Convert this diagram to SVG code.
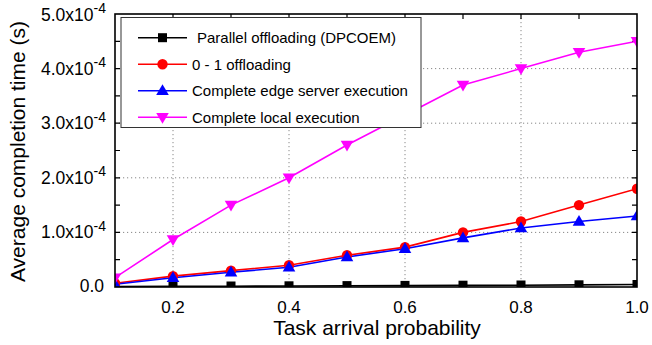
<svg xmlns="http://www.w3.org/2000/svg" width="652" height="345" viewBox="0 0 652 345">
<defs>
<style>
text{font-family:"Liberation Sans",Arial,sans-serif;fill:#000}
.tick{font-size:17px}
.ytick{font-size:17.5px}
.sup{font-size:14px}
.title{font-size:21px}
.leg{font-size:15px}
.grid{stroke:#888;stroke-width:1;stroke-dasharray:1.2 2.8;fill:none}
.tk{stroke:#000;stroke-width:1.2;fill:none}
.lk{fill:none;stroke:#000;stroke-width:1.6}
.lr{fill:none;stroke:#f00;stroke-width:1.6}
.lb{fill:none;stroke:#00f;stroke-width:1.6}
.lm{fill:none;stroke:#f0f;stroke-width:1.6}
</style>
<clipPath id="plot"><rect x="115" y="14" width="522" height="273"/></clipPath>
<rect id="sq" x="-4.5" y="-4.5" width="9" height="9" fill="#000"/>
<circle id="ci" r="5.2" fill="#f00"/>
<path id="tu" d="M0,-6.5 L6.3,4.3 L-6.3,4.3 Z" fill="#00f"/>
<path id="td" d="M0,6.5 L6.3,-4.3 L-6.3,-4.3 Z" fill="#f0f"/>
</defs>
<rect width="652" height="345" fill="#fff"/>
<g id="grid">
<path class="grid" d="M173,14V287M289,14V287M405,14V287M521,14V287M115,232.4H637M115,177.8H637M115,123.2H637M115,68.6H637"/>
</g>
<g id="ticks">
<path class="tk" d="M115,259.7h5M115,232.4h5M115,205.1h5M115,177.8h5M115,150.5h5M115,123.2h5M115,95.9h5M115,68.6h5M115,41.3h5M637,259.7h-5M637,232.4h-5M637,205.1h-5M637,177.8h-5M637,150.5h-5M637,123.2h-5M637,95.9h-5M637,68.6h-5M637,41.3h-5M173,287v-5M231,287v-5M289,287v-5M347,287v-5M405,287v-5M463,287v-5M521,287v-5M579,287v-5M173,14v5M231,14v5M289,14v5M347,14v5M405,14v5M463,14v5M521,14v5M579,14v5"/>
</g>
<g id="connectors" clip-path="url(#plot)">
<polyline class="lk" points="115,286.6 173,286.4 231,286.2 289,286 347,285.8 405,285.6 463,285.4 521,285.2 579,284.9 637,284.5"/>
<polyline class="lr" points="115,283.2 173,276.1 231,270.6 289,265.2 347,255.3 405,247.1 463,232.4 521,221.5 579,205.1 637,188.7"/>
<polyline class="lb" points="115,284.3 173,277.7 231,272.3 289,267.3 347,257 405,248.8 463,237.9 521,228 579,221.5 637,216"/>
<polyline class="lm" points="115,277.7 173,239.5 231,205.1 289,177.8 347,145 405,115 463,85 521,68.6 579,52.2 637,41.3"/>
</g>
<g id="markers" clip-path="url(#plot)">
<g id="series-black">
<use href="#sq" x="115" y="286"/><use href="#sq" x="173" y="286"/><use href="#sq" x="231" y="286"/><use href="#sq" x="289" y="285.8"/><use href="#sq" x="347" y="285.6"/><use href="#sq" x="405" y="285.4"/><use href="#sq" x="463" y="285.2"/><use href="#sq" x="521" y="285"/><use href="#sq" x="579" y="284.8"/><use href="#sq" x="637" y="284.5"/>
</g>
<g id="series-red">
<use href="#ci" x="115" y="283.2"/><use href="#ci" x="173" y="276.1"/><use href="#ci" x="231" y="270.6"/><use href="#ci" x="289" y="265.2"/><use href="#ci" x="347" y="255.3"/><use href="#ci" x="405" y="247.1"/><use href="#ci" x="463" y="232.4"/><use href="#ci" x="521" y="221.5"/><use href="#ci" x="579" y="205.1"/><use href="#ci" x="637" y="188.7"/>
</g>
<g id="series-blue">
<use href="#tu" x="115" y="284.3"/><use href="#tu" x="173" y="277.7"/><use href="#tu" x="231" y="272.3"/><use href="#tu" x="289" y="267.3"/><use href="#tu" x="347" y="257"/><use href="#tu" x="405" y="248.8"/><use href="#tu" x="463" y="237.9"/><use href="#tu" x="521" y="228"/><use href="#tu" x="579" y="221.5"/><use href="#tu" x="637" y="216"/>
</g>
<g id="series-magenta">
<use href="#td" x="115" y="277.7"/><use href="#td" x="173" y="239.5"/><use href="#td" x="231" y="205.1"/><use href="#td" x="289" y="177.8"/><use href="#td" x="347" y="145"/><use href="#td" x="405" y="115"/><use href="#td" x="463" y="85"/><use href="#td" x="521" y="68.6"/><use href="#td" x="579" y="52.2"/><use href="#td" x="637" y="41.3"/>
</g>
</g>
<g id="frame">
<rect x="115" y="14" width="522" height="273" fill="none" stroke="#000" stroke-width="1.6"/>
</g>
<g id="xlabels" class="tick" text-anchor="middle">
<text x="173" y="313.3">0.2</text>
<text x="289" y="313.3">0.4</text>
<text x="405" y="313.3">0.6</text>
<text x="521" y="313.3">0.8</text>
<text x="637" y="313.3">1.0</text>
</g>
<g id="ylabels" text-anchor="end">
<text class="ytick" x="104" y="292">0.0</text>
<text class="ytick" x="106" y="238"><tspan>1.0x10</tspan><tspan class="sup" dy="-7.5">-4</tspan></text>
<text class="ytick" x="106" y="183.5"><tspan>2.0x10</tspan><tspan class="sup" dy="-7.5">-4</tspan></text>
<text class="ytick" x="106" y="129"><tspan>3.0x10</tspan><tspan class="sup" dy="-7.5">-4</tspan></text>
<text class="ytick" x="106" y="74.5"><tspan>4.0x10</tspan><tspan class="sup" dy="-7.5">-4</tspan></text>
<text class="ytick" x="106" y="20.7"><tspan>5.0x10</tspan><tspan class="sup" dy="-7.5">-4</tspan></text>
</g>
<g id="titles">
<text class="title" x="377" y="335" text-anchor="middle">Task arrival probability</text>
<text class="title" transform="translate(25,151.5) rotate(-90)" text-anchor="middle">Average completion time (s)</text>
</g>
<g id="legend">
<rect x="121" y="17.5" width="300" height="110" fill="#fff" stroke="#333" stroke-width="1"/>
<line class="lk" x1="138" y1="37.7" x2="187" y2="37.7"/><use href="#sq" x="162.5" y="37.7"/>
<text class="leg" x="197" y="43">Parallel offloading (DPCOEM)</text>
<line class="lr" x1="138" y1="64.3" x2="187" y2="64.3"/><use href="#ci" x="162.5" y="64.3"/>
<text class="leg" x="192" y="69.6">0 - 1 offloading</text>
<line class="lb" x1="138" y1="90.7" x2="187" y2="90.7"/><use href="#tu" x="162.5" y="90.7"/>
<text class="leg" x="192" y="96">Complete edge server execution</text>
<line class="lm" x1="138" y1="117.3" x2="187" y2="117.3"/><use href="#td" x="162.5" y="117.3"/>
<text class="leg" x="192" y="122.6">Complete local execution</text>
</g>
</svg>
